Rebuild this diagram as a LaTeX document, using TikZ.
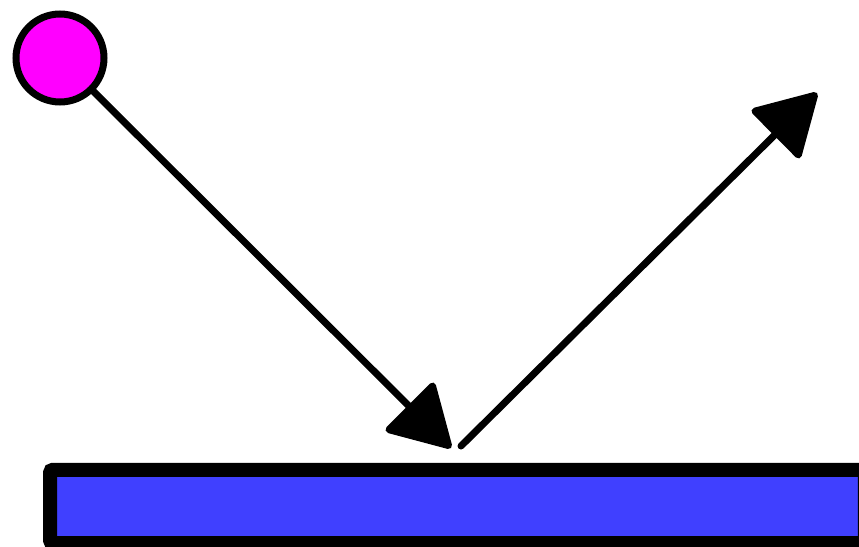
\documentclass[tikz,border=0pt]{standalone}
\usepackage{tikz}
\usetikzlibrary{arrows.meta,positioning}
\definecolor{ballmagenta}{RGB}{255,0,255}
\definecolor{surfaceblue}{RGB}{64,64,255}
\tikzset{
  ball/.style   ={circle, draw=black, fill=ballmagenta, line width=5.25pt,
                  minimum size=66pt, inner sep=0pt},
  surface/.style={rectangle, draw=black, fill=surfaceblue, line width=10.5pt,
                  rounded corners=2pt, minimum width=611pt, minimum height=55pt,
                  inner sep=0pt},
  ray/.style    ={-{Triangle[length=48pt, width=54pt, round]},
                  line width=5.25pt, line cap=round},
}
\begin{document}
\begin{tikzpicture}[x=0.75pt, y=-0.75pt]
  \useasboundingbox (0,0) rectangle (859,546);
  % ball and mirror surface
  \node[ball] (ball) at (60,58) {};
  \node[surface] (mirror) at (457.5,506.5) {};
  % incoming and reflected ray
  \coordinate (hit)    at (451,448);
  \coordinate (bounce) at (461,446);
  \coordinate (away)   at (817,93);
  \draw[ray] (ball) -- (hit);
  \draw[ray] (bounce) -- (away);
\end{tikzpicture}
\end{document}
